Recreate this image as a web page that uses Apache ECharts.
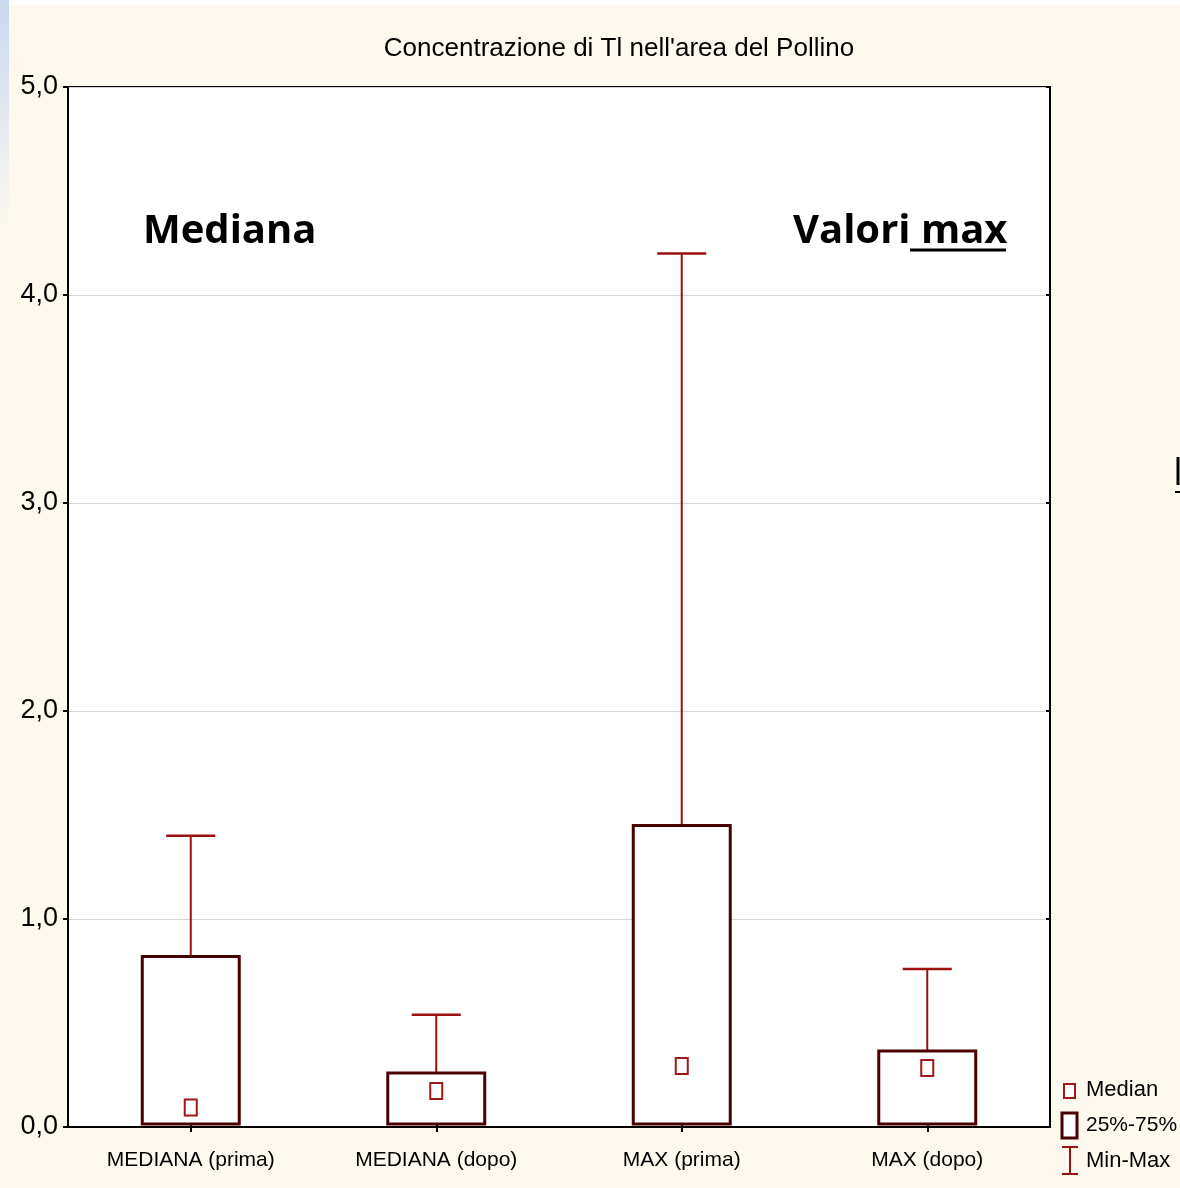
<!DOCTYPE html>
<html><head><meta charset="utf-8">
<script src="https://cdn.jsdelivr.net/npm/echarts@6/dist/echarts.min.js"></script>
<style>html,body{margin:0;padding:0;background:#fdf9ef}#c{width:1180px;height:1188px}</style>
</head><body><div id="c"></div>
<script>
const categories = ['MEDIANA (prima)', 'MEDIANA (dopo)', 'MAX (prima)', 'MAX (dopo)'];
const minVals = [0.015, 0.015, 0.015, 0.015];
const q1Vals = [0.015, 0.015, 0.015, 0.015];
const medianVals = [0.094, 0.173, 0.293, 0.284];
const q3Vals = [0.82, 0.26, 1.45, 0.365];
const maxVals = [1.40, 0.54, 4.20, 0.76];
const yTicks = [0, 1, 2, 3, 4, 5];

const NARROW = "'Liberation Sans', Arial, sans-serif";
const data = categories.map((c, i) => [i, minVals[i], q1Vals[i], medianVals[i], q3Vals[i], maxVals[i]]);

const chart = echarts.init(document.getElementById('c'));
const fmt = v => v.toFixed(1).replace('.', ',');

function renderItem(params, api) {
  const i = api.value(0);
  const pMin = api.coord([i, api.value(1)]);
  const pQ1 = api.coord([i, api.value(2)]);
  const pMed = api.coord([i, api.value(3)]);
  const pQ3 = api.coord([i, api.value(4)]);
  const pMax = api.coord([i, api.value(5)]);
  const band = api.size([1, 0])[0];
  const bw = band * 0.395;
  const cw = band * 0.2;
  const x = pQ1[0];
  return {
    type: 'group',
    children: [
      { type: 'line', shape: { x1: x, y1: pQ3[1], x2: x, y2: pMax[1] }, style: { stroke: '#9b1010', lineWidth: 2 } },
      { type: 'line', shape: { x1: x - cw / 2, y1: pMax[1], x2: x + cw / 2, y2: pMax[1] }, style: { stroke: '#9b1010', lineWidth: 2.5 } },
      { type: 'line', shape: { x1: x, y1: pQ1[1], x2: x, y2: pMin[1] }, style: { stroke: '#9b1010', lineWidth: 2 } },
      { type: 'rect', shape: { x: x - bw / 2, y: pQ3[1], width: bw, height: pQ1[1] - pQ3[1] }, style: { fill: '#ffffff', stroke: '#4a0000', lineWidth: 3 } },
      { type: 'rect', shape: { x: x - 6, y: pMed[1] - 8, width: 12, height: 16 }, style: { fill: '#ffffff', stroke: '#a01818', lineWidth: 2 } }
    ]
  };
}

chart.setOption({
  backgroundColor: '#fdf9ef',
  animation: false,
  title: {
    text: "Concentrazione di Tl nell'area del Pollino",
    left: 614, top: 31, textAlign: 'center',
    textStyle: { fontFamily: NARROW, fontSize: 26, fontWeight: 'normal', color: '#000' }
  },
  grid: { left: 68, right: 130, top: 87, bottom: 61, show: true, backgroundColor: '#ffffff', borderColor: '#000', borderWidth: 2 },
  xAxis: [
    { type: 'category', data: categories, boundaryGap: true, position: 'bottom',
      axisLine: { show: true, lineStyle: { color: '#000', width: 2 } },
      axisTick: { show: true, alignWithLabel: true, inside: true, length: 5, lineStyle: { color: '#000', width: 2 } },
      axisLabel: { fontFamily: NARROW, fontSize: 21, color: '#000', margin: 23 } },
    { type: 'category', data: categories, boundaryGap: true, position: 'top',
      axisLine: { show: true, lineStyle: { color: '#000', width: 2 } },
      axisTick: { show: true, alignWithLabel: true, inside: true, length: 5, lineStyle: { color: '#000', width: 2 } },
      axisLabel: { show: false } }
  ],
  yAxis: [
    { type: 'value', min: yTicks[0], max: yTicks[yTicks.length - 1], interval: 1, position: 'left',
      axisLine: { show: true, lineStyle: { color: '#000', width: 2 } },
      axisTick: { show: true, length: 5, lineStyle: { color: '#000', width: 2 } },
      splitLine: { show: true, lineStyle: { color: '#d6d6d6', width: 1 } },
      axisLabel: { fontFamily: NARROW, fontSize: 27, color: '#000', margin: 10, formatter: fmt } },
    { type: 'value', min: yTicks[0], max: yTicks[yTicks.length - 1], interval: 1, position: 'right',
      axisLine: { show: true, lineStyle: { color: '#000', width: 2 } },
      axisTick: { show: true, inside: true, length: 4, lineStyle: { color: '#000', width: 2 } },
      splitLine: { show: false }, axisLabel: { show: false } }
  ],
  series: [{
    type: 'custom', renderItem: renderItem, data: data,
    encode: { x: 0, y: [1, 2, 3, 4, 5] }, clip: false, z: 5
  }],
  graphic: [
    { type: 'rect', shape: { x: 0, y: 0, width: 1180, height: 5 }, style: { fill: '#ffffff' }, silent: true },
    { type: 'rect', shape: { x: 0, y: 0, width: 9, height: 230 }, style: { fill: new echarts.graphic.LinearGradient(0, 0, 0, 1, [{ offset: 0, color: '#c9d8ef' }, { offset: 1, color: '#fdf9ef' }]) }, silent: true },
    { type: 'text', left: 143, top: 212, style: { text: 'Mediana', font: "bold 40px 'Open Sans', 'Noto Sans', sans-serif", fill: '#000' } },
    { type: 'text', left: 793, top: 212, style: { text: 'Valori max', font: "bold 40px 'Open Sans', 'Noto Sans', sans-serif", fill: '#000' } },
    { type: 'line', shape: { x1: 910, y1: 250, x2: 1006, y2: 250 }, style: { stroke: '#000', lineWidth: 3 } },
    // clipped fragments at right edge
    { type: 'line', shape: { x1: 1178, y1: 457, x2: 1178, y2: 485 }, style: { stroke: '#000', lineWidth: 3 } },
    { type: 'line', shape: { x1: 1175, y1: 492, x2: 1180, y2: 492 }, style: { stroke: '#000', lineWidth: 2 } },
    // legend
    { type: 'rect', shape: { x: 1064, y: 1084, width: 11, height: 14 }, style: { fill: '#fff', stroke: '#a01818', lineWidth: 2 } },
    { type: 'text', left: 1086, top: 1079, style: { text: 'Median', font: "22px " + NARROW, fill: '#000' } },
    { type: 'rect', shape: { x: 1062, y: 1113, width: 15, height: 25 }, style: { fill: '#fff', stroke: '#4a0000', lineWidth: 3 } },
    { type: 'text', left: 1086, top: 1115, style: { text: '25%-75%', font: "21px " + NARROW, fill: '#000' } },
    { type: 'line', shape: { x1: 1062, y1: 1147, x2: 1078, y2: 1147 }, style: { stroke: '#9b1010', lineWidth: 2 } },
    { type: 'line', shape: { x1: 1070, y1: 1147, x2: 1070, y2: 1174 }, style: { stroke: '#9b1010', lineWidth: 2 } },
    { type: 'line', shape: { x1: 1062, y1: 1174, x2: 1078, y2: 1174 }, style: { stroke: '#9b1010', lineWidth: 2 } },
    { type: 'text', left: 1086, top: 1150, style: { text: 'Min-Max', font: "22px " + NARROW, fill: '#000' } }
  ]
});
</script></body></html>
